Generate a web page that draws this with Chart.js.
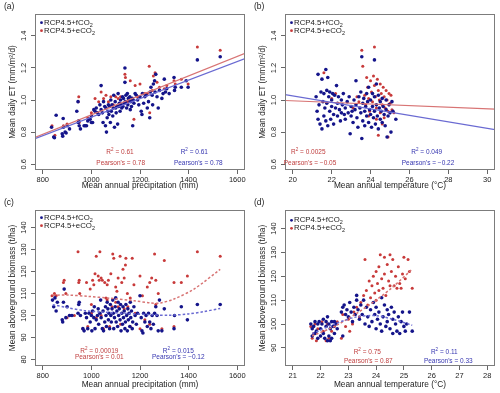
<!DOCTYPE html>
<html>
<head>
<meta charset="utf-8">
<script src="https://cdn.jsdelivr.net/npm/chart.js@4/dist/chart.umd.min.js"></script>
<style>
  body { margin: 0; background: #fff; }
  canvas { position: absolute; }
</style>
</head>
<body>
<canvas id="chartA" width="250" height="196" style="left:0;top:0"></canvas>
<canvas id="chartB" width="250" height="196" style="left:250px;top:0"></canvas>
<canvas id="chartC" width="250" height="197" style="left:0;top:196px"></canvas>
<canvas id="chartD" width="250" height="197" style="left:250px;top:196px"></canvas>
<script>
// tick labels
const xTicksPrecip = [800, 1000, 1200, 1400, 1600];
const xTicksTempB = [20, 22, 24, 26, 28, 30];
const xTicksTempD = [21, 22, 23, 24, 25, 26, 27, 28];
const yTicksET = [0.6, 0.8, 1.0, 1.2, 1.4];
const yTicksBioC = [80, 90, 100, 110, 120, 130, 140];
const yTicksBioD = [90, 100, 110, 120, 130, 140];

const seriesNames = ['RCP4.5+fCO', 'RCP4.5+eCO'];

// statistics text: [eCO2 (red), fCO2 (blue)]
const r2A = ['0.61', '0.61'];
const pearsonA = ['0.78', '0.78'];
const r2B = ['0.0025', '0.049'];
const pearsonB = ['\u22120.05', '\u22120.22'];
const r2C = ['0.00019', '0.015'];
const pearsonC = ['0.01', '\u22120.12'];
const r2D = ['0.75', '0.11'];
const pearsonD = ['0.87', '0.33'];

// (a) mean daily ET vs precipitation
const etPrecipFixed = [[836,0.83],[845,0.77],[848,0.765],[855,0.905],[880,0.79],[882,0.775],[884,0.885],[885,0.83],[892,0.80],[896,0.795],[900,0.84],[910,0.82],[940,0.93],[945,0.99],[946,0.86],[948,0.87],[950,0.84],[955,0.82],[970,0.84],[975,0.84],[980,0.84],[985,0.87],[990,0.88],[995,0.88],[1000,0.86],[1000,0.90],[1005,0.86],[1010,0.94],[1015,0.93],[1020,0.95],[1025,0.92],[1030,0.91],[1035,0.97],[1040,1.09],[1040,0.94],[1045,0.92],[1048,0.86],[1050,0.99],[1055,0.96],[1058,0.84],[1060,0.95],[1062,0.80],[1065,0.89],[1068,0.93],[1070,0.97],[1072,0.91],[1075,0.96],[1078,0.86],[1080,1.00],[1082,0.93],[1085,0.97],[1088,0.90],[1090,0.95],[1092,1.03],[1095,0.83],[1098,0.99],[1100,0.95],[1102,0.92],[1105,0.96],[1108,0.85],[1110,1.04],[1112,0.96],[1115,0.98],[1118,0.93],[1120,1.00],[1122,0.97],[1125,0.95],[1128,1.02],[1130,0.96],[1132,1.01],[1135,0.98],[1138,1.20],[1138,1.11],[1140,0.99],[1142,1.03],[1145,0.95],[1148,1.04],[1150,0.97],[1152,1.01],[1155,1.00],[1158,1.02],[1160,0.94],[1162,0.99],[1165,0.96],[1168,1.01],[1170,0.84],[1172,1.00],[1175,0.98],[1180,1.04],[1185,1.03],[1190,1.00],[1195,0.97],[1200,1.02],[1205,0.93],[1208,0.91],[1210,1.04],[1215,0.98],[1220,1.02],[1225,1.03],[1230,0.95],[1235,0.99],[1240,0.89],[1242,1.05],[1245,1.08],[1250,1.03],[1252,0.97],[1255,1.10],[1260,1.12],[1262,1.05],[1265,1.16],[1270,1.02],[1275,0.95],[1280,1.06],[1290,1.01],[1295,1.04],[1300,1.13],[1305,1.05],[1310,1.07],[1320,1.04],[1340,1.14],[1342,1.06],[1345,1.08],[1370,1.08],[1390,1.12],[1398,1.08],[1436,1.25],[1530,1.27]];
const etPrecipElevated = [[838,0.84],[850,0.78],[885,0.84],[900,0.85],[946,0.99],[948,1.02],[950,0.86],[985,0.89],[1000,0.92],[1015,1.01],[1030,0.99],[1040,1.05],[1050,1.01],[1060,1.03],[1070,0.99],[1080,1.02],[1090,0.97],[1100,1.02],[1110,1.01],[1120,1.02],[1138,1.16],[1140,1.14],[1150,0.99],[1160,1.12],[1175,0.88],[1180,1.09],[1190,1.02],[1200,1.10],[1220,1.04],[1230,1.04],[1238,1.21],[1240,0.92],[1250,1.06],[1255,1.15],[1262,1.17],[1270,1.11],[1280,1.08],[1300,1.07],[1310,1.09],[1340,1.12],[1345,1.10],[1370,1.13],[1398,1.10],[1436,1.33],[1530,1.31]];
const fitAFixed = [[768,0.759],[1632,1.258]];
const fitAElevated = [[768,0.767],[1632,1.291]];

// (b) mean daily ET vs temperature
const etTempFixed = [[21.2,1.02],[21.25,0.93],[21.3,1.16],[21.3,0.88],[21.35,0.97],[21.4,0.85],[21.45,1.05],[21.5,0.82],[21.5,1.13],[21.55,0.99],[21.6,0.90],[21.6,1.04],[21.65,0.95],[21.7,1.19],[21.7,0.87],[21.75,1.06],[21.75,0.98],[21.8,1.14],[21.8,0.84],[21.85,1.02],[21.9,0.93],[21.9,1.05],[21.95,0.88],[22.0,1.0],[22.0,0.96],[22.05,1.04],[22.1,0.91],[22.1,0.85],[22.15,1.03],[22.2,0.95],[22.25,1.09],[22.3,0.98],[22.3,0.90],[22.35,1.02],[22.4,0.94],[22.45,0.87],[22.5,1.0],[22.5,0.92],[22.55,0.97],[22.6,1.04],[22.65,0.91],[22.7,0.95],[22.7,0.88],[22.8,0.99],[22.85,0.92],[22.9,1.02],[22.95,0.79],[23.0,0.96],[23.0,0.90],[23.05,0.93],[23.1,0.86],[23.15,1.0],[23.2,0.94],[23.25,1.12],[23.25,0.97],[23.3,0.89],[23.35,0.83],[23.4,1.02],[23.45,0.95],[23.5,0.92],[23.5,1.05],[23.55,1.27],[23.55,0.76],[23.6,0.98],[23.6,0.87],[23.65,1.01],[23.7,0.93],[23.7,0.84],[23.75,0.96],[23.8,1.04],[23.8,0.90],[23.85,0.99],[23.9,0.86],[23.9,1.08],[23.95,0.94],[24.0,1.0],[24.0,0.91],[24.05,0.83],[24.1,1.04],[24.1,0.96],[24.15,0.89],[24.2,1.25],[24.2,1.02],[24.2,0.93],[24.25,0.85],[24.3,1.10],[24.3,0.97],[24.35,0.90],[24.4,1.03],[24.4,0.82],[24.45,0.95],[24.5,0.99],[24.5,0.88],[24.55,0.93],[24.6,1.01],[24.6,0.86],[24.65,0.96],[24.7,0.91],[24.75,0.84],[24.8,1.0],[24.8,0.94],[24.85,0.77],[24.9,0.90],[24.95,0.97],[25.0,0.92],[25.05,0.80],[25.1,0.99],[25.15,0.93],[25.3,0.88]];
const etTempElevated = [[21.6,1.17],[22.0,1.01],[22.2,1.04],[23.1,0.95],[23.3,1.02],[23.4,0.99],[23.55,1.31],[23.6,1.21],[23.7,1.03],[23.75,0.97],[23.8,1.14],[23.85,1.08],[23.9,1.01],[23.9,0.90],[23.95,0.93],[24.0,1.12],[24.05,1.05],[24.1,0.99],[24.15,1.15],[24.2,1.33],[24.2,1.09],[24.25,1.02],[24.3,0.95],[24.3,0.88],[24.35,1.13],[24.4,1.06],[24.4,0.78],[24.45,1.00],[24.5,0.92],[24.5,1.10],[24.55,1.04],[24.6,0.97],[24.6,0.85],[24.65,1.08],[24.7,1.02],[24.7,0.89],[24.75,0.95],[24.8,1.06],[24.85,1.00],[24.9,0.93],[24.9,0.77],[24.95,1.04],[25.0,0.98],[25.05,1.03],[25.1,0.94],[25.2,0.92]];
const fitBFixed = [[19.6,1.034],[30.4,0.815]];
const fitBElevated = [[19.6,0.997],[30.4,0.943]];

// (c) aboveground biomass vs precipitation
const bioPrecipFixed = [[840,107],[845,104],[850,108],[855,102],[860,106],[880,98],[882,97],[885,106],[888,112],[895,99],[900,104],[910,100],[920,100],[945,101],[948,105],[950,106],[955,100],[965,94],[970,93],[975,101],[980,99],[985,94],[990,101],[995,97],[1000,100],[1002,93],[1005,102],[1010,99],[1012,104],[1015,94],[1020,98],[1025,100],[1028,103],[1030,96],[1035,101],[1038,107],[1040,99],[1045,94],[1048,102],[1050,93],[1055,97],[1058,104],[1060,100],[1062,95],[1065,106],[1068,103],[1070,98],[1072,101],[1075,94],[1078,105],[1080,100],[1082,97],[1085,103],[1088,107],[1090,101],[1092,94],[1095,99],[1098,104],[1100,108],[1102,97],[1105,102],[1108,95],[1110,106],[1112,100],[1115,103],[1118,98],[1120,105],[1122,93],[1125,101],[1128,96],[1130,104],[1132,99],[1135,102],[1138,94],[1140,97],[1142,105],[1145,100],[1148,93],[1150,103],[1152,98],[1155,101],[1158,95],[1160,106],[1162,99],[1165,102],[1168,94],[1170,97],[1175,104],[1180,100],[1185,96],[1190,101],[1200,109],[1205,99],[1208,93],[1212,92],[1215,101],[1220,97],[1225,100],[1230,95],[1235,101],[1240,97],[1245,94],[1250,100],[1255,96],[1260,101],[1265,104],[1270,100],[1275,93],[1280,107],[1290,93],[1300,103],[1340,94],[1342,100],[1370,104],[1395,98],[1436,105],[1530,105]];
const bioPrecipElevated = [[838,109],[848,110],[855,109],[885,115],[888,116],[895,110],[900,99],[930,100],[945,129],[948,115],[950,116],[952,110],[965,94],[980,115],[985,95],[995,112],[1000,105],[1000,101],[1005,116],[1010,114],[1015,119],[1020,127],[1020,99],[1028,118],[1032,116],[1035,129],[1040,117],[1040,100],[1045,116],[1050,94],[1055,115],[1060,108],[1065,114],[1065,107],[1070,116],[1075,95],[1080,119],[1085,104],[1088,128],[1092,126],[1100,113],[1100,106],[1105,111],[1110,117],[1110,104],[1118,127],[1120,96],[1125,115],[1130,121],[1135,117],[1135,103],[1140,123],[1142,126],[1148,110],[1150,104],[1160,108],[1160,95],[1168,126],[1175,114],[1180,101],[1200,118],[1200,94],[1210,109],[1220,98],[1230,113],[1240,115],[1240,96],[1248,117],[1260,128],[1265,116],[1265,105],[1275,110],[1290,94],[1300,125],[1340,115],[1340,95],[1370,115],[1395,118],[1436,129],[1530,127]];
const fitCFixed = [[841,104.9],[900,103.6],[971,102.2],[1050,101.5],[1150,100.9],[1250,100.3],[1320,100.1],[1400,100.7],[1460,101.7],[1530,103.2]];
const fitCElevated = [[841,109.2],[903,109.3],[985,108.7],[1080,107.8],[1176,106.7],[1244,105.7],[1285,105.7],[1340,107.5],[1422,112],[1530,121]];

// (d) aboveground biomass vs temperature
const bioTempFixed = [[21.65,100],[21.7,98],[21.7,95],[21.75,99],[21.8,101],[21.8,96],[21.85,97],[21.9,100],[21.9,94],[21.95,101],[22.0,98],[22.0,95],[22.05,100],[22.1,96],[22.1,102],[22.15,94],[22.2,99],[22.2,101],[22.25,93],[22.25,103],[22.3,95],[22.3,100],[22.35,93],[22.35,98],[22.4,101],[22.4,94],[22.45,99],[22.5,96],[22.5,101],[22.55,100],[22.6,98],[22.75,105],[22.8,95],[22.8,107],[22.85,108],[22.9,104],[22.95,106],[23.0,103],[23.05,109],[23.1,105],[23.15,101],[23.2,107],[23.25,104],[23.3,110],[23.3,112],[23.35,106],[23.4,102],[23.45,108],[23.5,104],[23.55,110],[23.6,100],[23.65,107],[23.7,103],[23.75,99],[23.8,106],[23.85,101],[23.9,109],[23.95,104],[24.0,98],[24.0,107],[24.05,102],[24.1,105],[24.15,100],[24.2,111],[24.2,97],[24.25,103],[24.3,108],[24.35,99],[24.4,106],[24.4,101],[24.45,104],[24.5,98],[24.55,107],[24.6,102],[24.6,96],[24.65,105],[24.7,100],[24.75,97],[24.8,103],[24.85,96],[24.9,101],[24.95,105],[25.0,99],[25.05,97],[25.1,100],[25.2,105],[25.3,97]];
const bioTempElevated = [[21.65,99],[21.7,94],[21.75,96],[21.8,100],[21.85,93],[21.9,98],[22.0,95],[22.05,101],[22.1,97],[22.2,93],[22.25,100],[22.3,94],[22.4,97],[22.5,99],[22.6,101],[22.75,94],[22.8,104],[22.9,99],[23.0,102],[23.05,97],[23.15,100],[23.2,105],[23.3,107],[23.4,103],[23.45,109],[23.55,112],[23.6,127],[23.65,114],[23.7,108],[23.75,118],[23.8,111],[23.85,116],[23.9,120],[23.95,113],[24.0,122],[24.0,110],[24.05,117],[24.1,124],[24.1,114],[24.15,129],[24.2,119],[24.25,115],[24.3,128],[24.3,121],[24.35,112],[24.4,125],[24.45,118],[24.5,129],[24.5,116],[24.55,122],[24.6,127],[24.65,116],[24.7,120],[24.75,115],[24.8,124],[24.85,117],[24.9,115],[24.95,121],[25.0,128],[25.05,119],[25.15,127],[25.2,122],[25.3,115]];
const fitDFixed = [[21.7,96],[22.5,100],[23.3,103],[24.0,103.5],[24.6,102],[25.3,99.5]];
const fitDElevated = [[21.7,95],[22.5,99],[23.3,104.5],[24.0,110],[24.6,115.5],[25.3,123]];

const FONT = "'Liberation Sans', Arial, sans-serif";
const blue = '#14148a';
const red = '#c83a3a';
const blueLine = '#6a6ad2';
const redLine = '#d87474';
const textBlue = '#3535b0';
const textRed = '#c04040';

// draw text pieces, mode 1 = superscript, -1 = subscript
function richText(ctx, parts, x, y, size, align) {
    let total = 0;
    const widths = parts.map(function (p) {
        ctx.font = (p[1] ? size * 0.7 : size) + 'px ' + FONT;
        const w = ctx.measureText(p[0]).width;
        total += w;
        return w;
    });
    let cx = align === 'center' ? x - total / 2 : x;
    ctx.textAlign = 'left';
    ctx.textBaseline = 'middle';
    parts.forEach(function (p, i) {
        ctx.font = (p[1] ? size * 0.7 : size) + 'px ' + FONT;
        const dy = p[1] === 1 ? -size * 0.38 : (p[1] === -1 ? size * 0.3 : 0);
        ctx.fillText(p[0], cx, y + dy);
        cx += widths[i];
    });
}

function makeDecor(c) {
    return {
        id: 'decor' + c.label,
        afterDraw(chart) {
            const ctx = chart.ctx;
            const a = chart.chartArea;
            const ys = chart.scales.y;
            ctx.save();
            ctx.strokeStyle = '#7c7c7c';
            ctx.lineWidth = 1;
            ctx.strokeRect(a.left + 0.5, a.top + 0.5, a.right - a.left - 1, a.bottom - a.top - 1);

            // rotated y tick labels, as R draws them
            ctx.fillStyle = '#222';
            ctx.font = '7.5px ' + FONT;
            ctx.textAlign = 'center';
            ctx.textBaseline = 'middle';
            ys.ticks.forEach(function (t) {
                const py = ys.getPixelForValue(t.value);
                ctx.save();
                ctx.translate(23.5, py);
                ctx.rotate(-Math.PI / 2);
                ctx.fillText(t.value.toFixed(c.yDec), 0, 0);
                ctx.restore();
            });

            ctx.textAlign = 'left';
            ctx.font = '8.5px ' + FONT;
            ctx.fillText('(' + c.label + ')', 4, 7);

            // legend
            [[blue, seriesNames[0], c.legendY], [red, seriesNames[1], c.legendY + 8]].forEach(function (l) {
                ctx.fillStyle = l[0];
                ctx.beginPath();
                ctx.arc(41.5, l[2], 1.4, 0, Math.PI * 2);
                ctx.fill();
                ctx.fillStyle = '#222';
                richText(ctx, [[l[1], 0], ['2', -1]], 44, l[2], 7.8, 'left');
            });

            // statistics
            const s = c.statPos;
            ctx.fillStyle = textRed;
            richText(ctx, [['R', 0], ['2', 1], [' = ' + c.r2[0], 0]], s[0][0], s[0][1], 6.5, 'center');
            richText(ctx, [["Pearson's = " + c.pearson[0], 0]], s[1][0], s[1][1], 6.5, 'center');
            ctx.fillStyle = textBlue;
            richText(ctx, [['R', 0], ['2', 1], [' = ' + c.r2[1], 0]], s[2][0], s[2][1], 6.5, 'center');
            richText(ctx, [["Pearson's = " + c.pearson[1], 0]], s[3][0], s[3][1], 6.5, 'center');
            ctx.restore();
        }
    };
}

function pts(arr) {
    return arr.map(function (p) { return { x: p[0], y: p[1] }; });
}

function buildPanel(id, c) {
    const gridOpts = { drawOnChartArea: false, tickLength: 4, tickColor: '#666', color: '#666' };
    return new Chart(document.getElementById(id), {
        type: 'scatter',
        data: {
            datasets: [
                { data: pts(c.fitFixed), showLine: true, borderColor: blueLine, borderWidth: c.lineWidth, borderDash: c.dash, pointRadius: 0, tension: c.tension, fill: false },
                { data: pts(c.fitElevated), showLine: true, borderColor: redLine, borderWidth: c.lineWidth, borderDash: c.dash, pointRadius: 0, tension: c.tension, fill: false },
                { data: pts(c.fixed), backgroundColor: blue, borderColor: blue, borderWidth: 0, pointRadius: 1.8 },
                { data: pts(c.elevated), backgroundColor: red, borderColor: red, borderWidth: 0, pointRadius: 1.5 }
            ]
        },
        options: {
            responsive: false,
            animation: false,
            events: [],
            layout: { padding: { left: 0, right: 5, top: 14, bottom: 0 } },
            plugins: { legend: { display: false }, tooltip: { enabled: false } },
            scales: {
                x: {
                    type: 'linear',
                    min: c.xRange[0],
                    max: c.xRange[1],
                    afterBuildTicks: function (s) { s.ticks = c.xTicks.map(function (v) { return { value: v }; }); },
                    afterFit: function (s) { s.height = c.xHeight; },
                    ticks: { font: { family: FONT, size: 7.5 }, color: '#222', padding: 1, maxRotation: 0, autoSkip: false, callback: function (v) { return String(v); } },
                    grid: gridOpts,
                    border: { display: false },
                    title: { display: true, text: c.xTitle, font: { family: FONT, size: 8.3 }, color: '#222', padding: { top: 0, bottom: c.xTitlePad } }
                },
                y: {
                    min: c.yRange[0],
                    max: c.yRange[1],
                    afterBuildTicks: function (s) { s.ticks = c.yTicks.map(function (v) { return { value: v }; }); },
                    afterFit: function (s) { s.width = 35; },
                    ticks: { display: false },
                    grid: gridOpts,
                    border: { display: false },
                    title: { display: true, text: c.yTitle, font: { family: FONT, size: 8.3 }, color: '#222', padding: { top: 8, bottom: 0 } }
                }
            }
        },
        plugins: [makeDecor(c)]
    });
}

buildPanel('chartA', {
    label: 'a', fixed: etPrecipFixed, elevated: etPrecipElevated,
    fitFixed: fitAFixed, fitElevated: fitAElevated, dash: [], tension: 0, lineWidth: 1.2,
    xRange: [768, 1632], yRange: [0.564, 1.536], xTicks: xTicksPrecip, yTicks: yTicksET, yDec: 1,
    xTitle: 'Mean annual precipitation (mm)', yTitle: 'Mean daily ET (mm/m\u00b2/d)',
    xHeight: 26, xTitlePad: 5, legendY: 22.7,
    r2: r2A, pearson: pearsonA,
    statPos: [[120, 152.7], [120.7, 163.3], [194.3, 152.7], [198.3, 163.3]]
});

buildPanel('chartB', {
    label: 'b', fixed: etTempFixed, elevated: etTempElevated,
    fitFixed: fitBFixed, fitElevated: fitBElevated, dash: [], tension: 0, lineWidth: 1.2,
    xRange: [19.6, 30.4], yRange: [0.564, 1.536], xTicks: xTicksTempB, yTicks: yTicksET, yDec: 1,
    xTitle: 'Mean annual temperature (\u00b0C)', yTitle: 'Mean daily ET (mm/m\u00b2/d)',
    xHeight: 26, xTitlePad: 5, legendY: 22.7,
    r2: r2B, pearson: pearsonB,
    statPos: [[58.3, 152.7], [60, 163.3], [176.7, 152.7], [178, 163.3]]
});

buildPanel('chartC', {
    label: 'c', fixed: bioPrecipFixed, elevated: bioPrecipElevated,
    fitFixed: fitCFixed, fitElevated: fitCElevated, dash: [2.5, 2], tension: 0.3, lineWidth: 1.5,
    xRange: [768, 1632], yRange: [77, 148], xTicks: xTicksPrecip, yTicks: yTicksBioC, yDec: 0,
    xTitle: 'Mean annual precipitation (mm)', yTitle: 'Mean aboveground biomass (t/ha)',
    xHeight: 27, xTitlePad: 3.5, legendY: 21.7,
    r2: r2C, pearson: pearsonC,
    statPos: [[99.3, 155], [99.3, 161.3], [178.3, 155], [178.3, 161.3]]
});

buildPanel('chartD', {
    label: 'd', fixed: bioTempFixed, elevated: bioTempElevated,
    fitFixed: fitDFixed, fitElevated: fitDElevated, dash: [2.5, 2], tension: 0.3, lineWidth: 1.5,
    xRange: [20.72, 28.28], yRange: [82.4, 147.8], xTicks: xTicksTempD, yTicks: yTicksBioD, yDec: 0,
    xTitle: 'Mean annual temperature (\u00b0C)', yTitle: 'Mean aboveground biomass (t/ha)',
    xHeight: 27, xTitlePad: 3.5, legendY: 24.3,
    r2: r2D, pearson: pearsonD,
    statPos: [[117.3, 156], [118.3, 165.3], [194.3, 156], [198.3, 165.3]]
});
</script>
</body>
</html>
